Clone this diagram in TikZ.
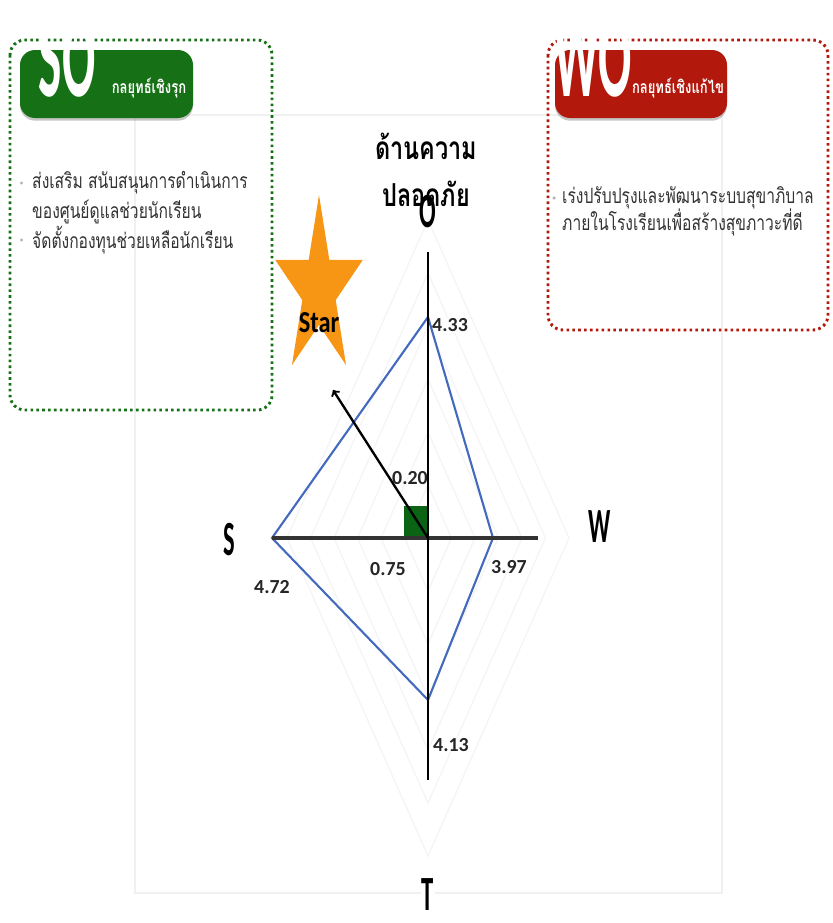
\documentclass[tikz,border=0pt]{standalone}
\usepackage{fontspec}
\newfontfamily\thaifont[Script=Thai,FakeStretch=0.74]{Loma}
\newfontfamily\numfont{Carlito}
\newfontfamily\axisfont[FakeStretch=0.5]{Carlito}
\newfontfamily\bigfont[FakeStretch=0.42]{Carlito}
\newfontfamily\starfont[FakeStretch=0.8]{Carlito}
\usetikzlibrary{positioning,shadows}
\definecolor{sogreen}{RGB}{22,112,22}
\definecolor{wored}{RGB}{178,24,12}
\definecolor{starorange}{RGB}{247,150,20}
\definecolor{polyblue}{RGB}{68,106,190}
\definecolor{cellgreen}{RGB}{10,100,20}

\begin{document}
\begin{tikzpicture}[x=0.03cm, y=-0.03cm,
bodytext/.style={font=\thaifont\fontsize{18}{22}\selectfont, text=black!80, inner sep=0pt, anchor=west},
tabtext/.style={font=\thaifont\bfseries\fontsize{15}{18}\selectfont, text=white, inner sep=0pt},
titletext/.style={font=\thaifont\bfseries\fontsize{27}{40}\selectfont, align=center, inner sep=0pt},
bigletters/.style={font=\bigfont\bfseries\fontsize{100}{100}\selectfont, text=white, inner sep=0pt},
valuelabel/.style={font=\numfont\bfseries\fontsize{17}{20}\selectfont, text=black!85, inner sep=0pt},
axislabel/.style={font=\axisfont\bfseries\fontsize{42}{44}\selectfont, inner sep=1pt},
startext/.style={font=\starfont\bfseries\fontsize{26}{28}\selectfont, inner sep=0pt},
bulletdot/.style={circle, fill=black!30, inner sep=0pt, minimum size=0.1cm},
sobox/.style={draw=sogreen, line width=2.5pt, dash pattern=on 2.2pt off 2.8pt, rounded corners=0.45cm},
wobox/.style={draw=wored, line width=2.5pt, dash pattern=on 2.2pt off 2.8pt, rounded corners=0.45cm},
tab/.style={rounded corners=0.45cm, drop shadow={opacity=0.45, shadow xshift=0pt, shadow yshift=-0.08cm}},
gridline/.style={draw=black!4, line width=1.2pt},
polyline/.style={draw=polyblue, line width=1.8pt, line join=miter},
]
\useasboundingbox (0,0) rectangle (832,923);

%Background
\draw[draw=black!6, line width=1.6pt] (135,115) rectangle (722,893);
\foreach \k in {1,...,6}
  \draw[gridline] (428,{538-53*\k}) -- ({428+23.5*\k},538) -- (428,{538+53*\k}) -- ({428-23.5*\k},538) -- cycle;

%SO box
\draw[sobox] (10,40) rectangle (272,410);
\fill[sogreen, tab] (20,50) rectangle (193,118);
\node[bigletters] (so) at (67,58) {SO};
\node[tabtext] (sotitle) at (149,88) {กลยุทธ์เชิงรุก};
\node[bodytext] (so1) at (32,183) {ส่งเสริม สนับสนุนการดำเนินการ};
\node[bodytext] (so2) at (32,212) {ของศูนย์ดูแลช่วยนักเรียน};
\node[bodytext] (so3) at (32,240) {จัดตั้งกองทุนช่วยเหลือนักเรียน};
\node[bulletdot, left=0.26cm of so1] (dot1) {};
\node[bulletdot, left=0.26cm of so3] (dot3) {};

%WO box
\draw[wobox] (548,40) rectangle (828,330);
\fill[wored, tab] (555,50) rectangle (727,118);
\node[bigletters] (wo) at (593,58) {WO};
\node[tabtext] (wotitle) at (678,88) {กลยุทธ์เชิงแก้ไข};
\node[bodytext] (wo1) at (562,198) {เร่งปรับปรุงและพัฒนาระบบสุขาภิบาล};
\node[bodytext] (wo2) at (562,222) {ภายในโรงเรียนเพื่อสร้างสุขภาวะที่ดี};
\node[bulletdot, left=0.18cm of wo1] (dot4) {};

%Star
\begin{scope}[shift={(319,289)}, xscale=46, yscale=-94]
\fill[starorange] (90:1) \foreach \k in {1,...,9} {-- ({90+36*\k}:{ifthenelse(isodd(\k),0.382,1)})} -- cycle;
\end{scope}
\node[startext] (star) at (319,323) {Star};

%Axes
\coordinate (origin) at (428,538);
\coordinate (vO) at (428,317);
\coordinate (vW) at (493,538);
\coordinate (vT) at (428,700);
\coordinate (vS) at (272,538);
\coordinate (topend) at (428,252);
\coordinate (bottomend) at (428,780);
\coordinate (rightend) at (538,538);
\coordinate (tip) at (333,390);
\fill[cellgreen] (404,506) rectangle (origin);
\draw[polyline] (vO) -- (vW) -- (vT) -- (vS) -- cycle;
\draw[black!80, line width=2.6pt] (vS) -- (rightend);
\draw[black, line width=1.4pt] (topend) -- (bottomend);
\draw[->, black, line width=2pt] (origin) -- (tip);

%Labels
\node[titletext] (title) at (426,170) {ด้านความ\\ปลอดภัย};
\node[axislabel] (O) at (428,212) {O};
\node[axislabel] (W) at (600,527) {W};
\node[axislabel] (S) at (229,540) {S};
\node[axislabel, fill=white] (T) at (428,895) {T};
\node[valuelabel, anchor=west] (l433) at (432,325) {4.33};
\node[valuelabel] (l397) at (509,567) {3.97};
\node[valuelabel] (l413) at (451,745) {4.13};
\node[valuelabel] (l472) at (272,587) {4.72};
\node[valuelabel] (l075) at (388,569) {0.75};
\node[valuelabel] (l020) at (410,478) {0.20};

\end{tikzpicture}
\end{document}
